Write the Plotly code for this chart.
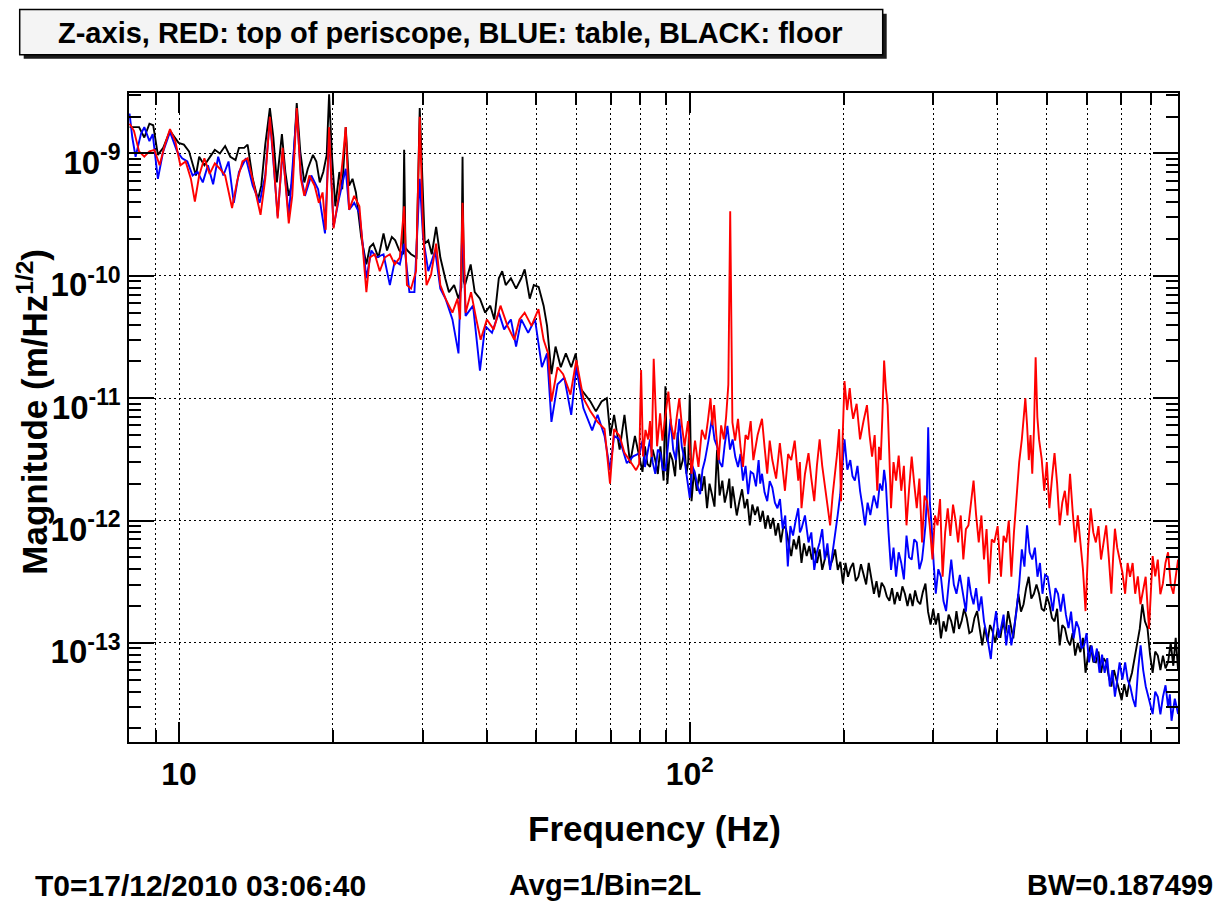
import plotly.graph_objects as go

# ---------------- data ----------------
black_pts = [
    (8.0, 1.64e-9), (8.35, 1.64e-9), (8.55, 1.35e-9), (8.75, 1.75e-9), (8.9, 1.7e-9), (9.09, 9.74e-10),
    (9.31, 1.11e-9), (9.6, 1.53e-9), (9.98, 1.22e-9), (10.22, 1.18e-9), (10.46, 1.04e-9), (10.79, 6.6e-10),
    (10.95, 9.4e-10), (11.21, 8.0e-10), (11.57, 9.74e-10), (11.75, 1.07e-9), (12.02, 1.0e-9), (12.31, 1.15e-9),
    (12.6, 9.4e-10), (12.9, 8.85e-10), (13.1, 1.11e-9), (13.41, 1.11e-9), (13.62, 1.18e-9), (13.94, 6.2e-10),
    (14.27, 4.2e-10), (14.49, 5.45e-10), (14.75, 1.18e-9), (15.06, 2.35e-9), (15.3, 1.35e-9), (15.54, 5.8e-10),
    (15.9, 1.44e-9), (16.15, 7.05e-10), (16.4, 4.5e-10), (16.66, 5.8e-10), (17.0, 2.58e-9), (17.27, 1.04e-9),
    (17.59, 5.8e-10), (17.87, 7.5e-10), (18.29, 9.74e-10), (18.57, 8.6e-10), (18.86, 5.8e-10), (19.16, 7.05e-10),
    (19.46, 9.74e-10), (19.67, 3.05e-9), (19.92, 9.74e-10), (20.23, 3.7e-10), (20.6, 7.05e-10), (20.87, 5.1e-10),
    (21.2, 1.64e-9), (21.53, 5.45e-10), (21.86, 6.2e-10), (22.2, 4.8e-10), (22.73, 2.08e-10), (23.27, 1.24e-10),
    (23.63, 1.71e-10), (24.0, 1.83e-10), (24.57, 1.41e-10), (25.14, 2.22e-10), (25.54, 1.61e-10), (26.1, 2.08e-10),
    (26.5, 1.95e-10), (27.0, 1.61e-10), (27.45, 1.5e-10), (27.59, 1.07e-9), (27.75, 1.7e-10), (28.0, 1.61e-10),
    (28.46, 1.5e-10), (29.17, 1.41e-10), (29.6, 2.35e-9), (29.9, 8.6e-10), (30.28, 1.83e-10), (30.76, 1.95e-10),
    (31.25, 1.5e-10), (31.87, 2.51e-10), (32.48, 1.41e-10), (33.2, 9.55e-11), (33.77, 7.35e-11), (34.56, 8.4e-11),
    (35.25, 6.5e-11), (35.7, 8.0e-11), (35.9, 9.4e-10), (36.1, 9.0e-11), (36.3, 8.4e-11), (37.24, 1.24e-10),
    (37.93, 7.35e-11), (38.83, 6.5e-11), (39.75, 5.0e-11), (40.68, 5.7e-11), (41.43, 4.4e-11), (42.28, 9.55e-11),
    (42.93, 1.09e-10), (43.62, 8.4e-11), (44.65, 9.55e-11), (45.7, 7.85e-11), (46.78, 9.55e-11), (47.51, 1.13e-10),
    (48.6, 6.5e-11), (49.5, 8.4e-11), (50.6, 8.1e-11), (51.74, 5.7e-11), (52.55, 3.9e-11), (53.6, 1.57e-11),
    (54.6, 2.64e-11), (55.9, 1.79e-11), (57.2, 2.32e-11), (58.6, 1.79e-11), (59.8, 2.32e-11), (60.9, 1.22e-11),
    (62.3, 1.07e-11), (63.9, 9.4e-12), (65.5, 7.8e-12), (67.2, 9.4e-12), (68.8, 1.0e-11), (69.9, 4.92e-12),
    (71.1, 7.3e-12), (72.9, 3.8e-12), (74.5, 7.3e-12), (76.4, 2.94e-12), (78.1, 4.92e-12),
    (79.8, 3.33e-12), (80.8, 2.5e-12), (81.7, 4.04e-12), (82.6, 2.9e-12), (83.6, 2.74e-12), (84.6, 3.8e-12),
    (85.6, 3.12e-12), (86.6, 2.4e-12), (87.6, 4.04e-12), (88.9, 2.12e-12), (89.6, 1.25e-11), (90.4, 1.99e-12),
    (91.4, 3.6e-12), (92.5, 3.12e-12), (93.6, 2.3e-12), (94.7, 5.24e-12), (95.8, 2.6e-12), (96.9, 3.12e-12),
    (97.7, 4.0e-12), (98.5, 2.41e-12), (99.3, 3.0e-12), (100.0, 1.06e-11), (100.8, 1.44e-12), (102.0, 2.6e-12),
    (103.2, 1.75e-12), (104.4, 2.4e-12), (105.6, 1.75e-12), (106.8, 2.3e-12), (108.1, 1.26e-12), (109.3, 2.0e-12),
    (110.5, 1.64e-12), (111.8, 1.3e-12), (113.1, 3.79e-12), (114.4, 1.6e-12), (115.8, 2.12e-12), (117.1, 1.4e-12),
    (118.5, 1.75e-12), (119.5, 2.2e-12), (120.4, 1.26e-12), (121.3, 1.9e-12), (122.2, 1.53e-12), (123.6, 1.1e-12),
    (125.1, 1.44e-12), (126.6, 1.8e-12), (128.1, 1.26e-12), (129.6, 1.5e-12), (131.1, 9.14e-13), (132.6, 1.35e-12),
    (134.2, 1.11e-12), (135.8, 1.3e-12), (137.4, 9.75e-13), (139.0, 1.2e-12), (140.6, 8.57e-13), (142.2, 1.1e-12),
    (143.9, 8.57e-13), (145.6, 1.05e-12), (147.3, 7.53e-13), (149.0, 9.5e-13), (150.8, 6.62e-13), (152.5, 9.0e-13),
    (154.3, 8.57e-13), (156.1, 6.5e-13), (158.0, 5.12e-13), (159.8, 7.0e-13), (161.7, 5.82e-13), (163.6, 7.5e-13),
    (165.5, 4.5e-13), (167.4, 6.5e-13), (169.4, 5.12e-13), (171.4, 6.2e-13), (173.4, 4.8e-13), (175.4, 6.0e-13),
    (177.5, 4.5e-13), (179.6, 5.8e-13), (181.7, 3.95e-13), (183.8, 4.8e-13), (186.0, 5.82e-13), (188.2, 4.2e-13),
    (190.4, 4.8e-13), (192.6, 5.8e-13), (194.9, 3.95e-13), (197.2, 4.6e-13), (199.5, 3.05e-13), (201.8, 4.5e-13),
    (204.1, 3.47e-13), (206.5, 4.1e-13), (208.9, 4.5e-13), (211.4, 3.2e-13), (213.9, 3.47e-13), (216.4, 4.4e-13),
    (218.9, 3.7e-13), (221.5, 3.0e-13), (224.1, 4.5e-13), (226.7, 3.4e-13), (229.4, 2.52e-13), (232.1, 3.2e-13),
    (234.8, 2.36e-13), (237.5, 3.1e-13), (240.3, 2.86e-13), (243.1, 2.4e-13), (246.0, 2.21e-13), (248.9, 2.8e-13),
    (251.8, 2.07e-13), (254.8, 2.6e-13), (257.8, 2.21e-13), (260.8, 2.9e-13), (263.8, 2.52e-13), (266.9, 2.0e-13),
    (270.0, 2.52e-13), (273.1, 2.0e-13), (276.2, 2.68e-13), (279.4, 2.2e-13), (282.7, 2.07e-13), (286.0, 2.6e-13),
    (289.4, 3.05e-13), (292.8, 1.8e-13), (296.2, 1.41e-13), (299.7, 1.9e-13), (303.2, 1.41e-13), (306.7, 1.75e-13),
    (310.3, 1.09e-13), (313.9, 1.5e-13), (317.6, 1.24e-13), (321.3, 1.7e-13), (325.1, 1.5e-13), (328.9, 1.2e-13),
    (332.8, 1.82e-13), (336.7, 1.3e-13), (340.6, 1.5e-13), (344.6, 1.9e-13), (348.6, 1.6e-13), (352.7, 1.2e-13),
    (356.8, 1.24e-13), (361.0, 1.6e-13), (365.3, 1.82e-13), (369.6, 1.3e-13), (373.9, 9.55e-14), (378.3, 1.35e-13),
    (382.7, 1.02e-13), (387.2, 1.4e-13), (391.7, 1.24e-13), (396.3, 1.0e-13), (401.0, 1.32e-13), (405.7, 1.1e-13),
    (410.4, 1.5e-13), (415.2, 1.2e-13), (420.1, 1.82e-13), (425.0, 1.4e-13), (430.0, 1.09e-13), (435.0, 1.7e-13),
    (440.0, 2.52e-13), (445.2, 1.8e-13), (450.4, 2.07e-13), (455.7, 2.8e-13), (461.0, 3.47e-13), (466.4, 2.3e-13),
    (471.9, 2.52e-13), (477.4, 3.0e-13), (483.0, 2.52e-13), (488.7, 1.9e-13), (494.4, 1.82e-13), (500.2, 2.4e-13),
    (506.0, 2.07e-13), (511.9, 1.6e-13), (517.9, 1.5e-13), (524.0, 1.9e-13), (530.1, 9.55e-14), (536.3, 1.4e-13),
    (542.6, 1.32e-13), (549.0, 1.05e-13), (555.4, 9.55e-14), (561.9, 1.2e-13), (568.5, 7.87e-14), (575.2, 1.0e-13),
    (581.9, 8.4e-14), (588.7, 1.1e-13), (595.6, 5.7e-14), (602.6, 8.0e-14), (609.6, 9.55e-14), (616.8, 7.0e-14),
    (624.0, 6.92e-14), (631.3, 8.5e-14), (638.7, 5.7e-14), (646.2, 7.5e-14), (653.7, 6.92e-14), (661.4, 5.3e-14),
    (669.1, 4.4e-14), (677.0, 6.0e-14), (684.9, 5.0e-14), (692.9, 4.0e-14), (701.0, 3.4e-14), (709.2, 4.6e-14),
    (717.5, 3.63e-14), (725.9, 4.8e-14), (734.4, 5.7e-14), (743.0, 7.5e-14), (751.7, 9.55e-14), (760.5, 1.3e-13),
    (769.4, 2.07e-13), (778.4, 1.5e-13), (787.5, 1.32e-13), (796.7, 8.0e-14), (806.0, 5.7e-14), (815.5, 8.5e-14),
    (825.0, 7.87e-14), (834.7, 6.0e-14), (844.4, 7.87e-14), (854.3, 6.2e-14), (864.3, 7.0e-14), (874.4, 1.0e-13),
    (884.7, 6.5e-14), (894.3, 1.1e-13), (904.0, 6.0e-14),
]

blue_pts = [
    (8.0, 2.12e-9), (8.1, 1.35e-9), (8.22, 9.4e-10), (8.42, 1.44e-9), (8.55, 1.64e-9), (8.75, 1.26e-9),
    (8.88, 1.44e-9), (9.09, 6.2e-10), (9.31, 1.04e-9), (9.6, 1.5e-9), (9.91, 1.04e-9), (10.14, 9.13e-10),
    (10.38, 8.6e-10), (10.63, 6.6e-10), (10.87, 7.05e-10), (11.13, 5.8e-10), (11.39, 8.0e-10), (11.66, 5.6e-10),
    (11.93, 9.4e-10), (12.21, 6.6e-10), (12.5, 8.6e-10), (12.8, 3.95e-10), (13.1, 7.05e-10), (13.52, 9.13e-10),
    (13.94, 5.45e-10), (14.38, 3.95e-10), (14.75, 6.6e-10), (15.06, 1.93e-9), (15.3, 8.6e-10), (15.6, 3.05e-10),
    (15.95, 1.04e-9), (16.4, 3.05e-10), (17.0, 2.2e-9), (17.32, 6.6e-10), (17.64, 4.5e-10), (18.15, 6.6e-10),
    (18.72, 5.1e-10), (19.31, 2.22e-10), (19.67, 1.44e-9), (20.07, 2.51e-10), (20.55, 4.2e-10), (21.2, 7.5e-10),
    (21.53, 3.47e-10), (22.03, 3.95e-10), (22.55, 3.25e-10), (23.27, 9.55e-11), (23.8, 1.61e-10), (24.36, 1.41e-10),
    (25.14, 1.5e-10), (25.87, 8.4e-11), (26.45, 1.32e-10), (27.06, 1.24e-10), (27.59, 1.83e-10), (28.25, 7.35e-11),
    (28.9, 7.35e-11), (29.6, 6.2e-10), (30.04, 2.08e-10), (30.76, 1.09e-10), (31.73, 1.61e-10), (32.48, 7.85e-11),
    (33.25, 6.5e-11), (34.3, 4.4e-11), (35.25, 2.32e-11), (35.9, 2.68e-10), (36.4, 4.7e-11), (37.64, 5.7e-11),
    (38.83, 1.68e-11), (39.75, 3.9e-11), (41.0, 3.42e-11), (42.28, 5.0e-11), (43.3, 3.65e-11), (44.65, 4.4e-11),
    (45.7, 2.64e-11), (46.78, 4.4e-11), (48.26, 3.42e-11), (49.77, 4.4e-11), (51.34, 1.79e-11), (52.55, 2.32e-11),
    (53.6, 6.4e-12), (55.1, 1.3e-11), (56.8, 1.47e-11), (58.6, 7.3e-12), (59.96, 1.79e-11), (61.9, 8.3e-12),
    (64.4, 5.45e-12), (66.0, 7.3e-12), (68.1, 4.92e-12), (69.8, 2.58e-12), (71.1, 4.92e-12), (72.9, 4.6e-12),
    (75.3, 2.94e-12), (77.5, 3.35e-12),
    (79.8, 3.55e-12), (80.8, 4.5e-12), (81.7, 2.74e-12), (82.6, 3.6e-12), (83.6, 4.6e-12), (84.6, 3.0e-12),
    (85.6, 2.41e-12), (86.6, 3.8e-12), (87.6, 3.55e-12), (88.6, 2.6e-12), (89.6, 2.57e-12), (90.6, 4.0e-12),
    (91.7, 6.78e-12), (92.8, 3.8e-12), (93.9, 3.12e-12), (94.6, 4.5e-12), (95.4, 6.78e-12), (96.5, 4.0e-12),
    (97.7, 3.12e-12), (98.8, 2.2e-12), (100.0, 1.53e-12), (101.2, 2.8e-12), (102.4, 2.41e-12), (103.6, 1.9e-12),
    (104.8, 1.64e-12), (105.9, 2.6e-12), (107.1, 3.12e-12), (108.8, 4.5e-12), (110.5, 6.78e-12), (111.8, 4.6e-12),
    (113.1, 4.04e-12), (114.4, 3.0e-12), (115.8, 2.74e-12), (117.1, 4.2e-12), (118.5, 5.95e-12), (119.9, 3.8e-12),
    (121.3, 4.6e-12), (122.8, 3.3e-12), (124.3, 2.74e-12), (125.7, 3.5e-12), (127.1, 2.12e-12), (128.6, 2.8e-12),
    (130.1, 1.64e-12), (131.6, 2.5e-12), (133.2, 2.41e-12), (134.8, 1.9e-12), (136.4, 3.12e-12), (137.4, 2.0e-12),
    (138.5, 2.41e-12), (140.1, 1.7e-12), (141.8, 1.44e-12), (143.4, 2.1e-12), (145.1, 1.86e-12), (146.8, 1.4e-12),
    (148.5, 1.26e-12), (150.2, 1.5e-12), (152.0, 8.57e-13), (153.8, 1.1e-12), (155.6, 4.22e-13), (157.4, 9.0e-13),
    (159.3, 7.53e-13), (161.2, 1.0e-12), (163.1, 1.26e-12), (164.3, 8.0e-13), (165.5, 8.57e-13), (168.1, 1.1e-12),
    (170.8, 6.62e-13), (173.0, 8.0e-13), (175.3, 3.95e-13), (177.4, 5.5e-13), (179.6, 6.62e-13), (181.7, 8.5e-13),
    (183.8, 4.8e-13), (186.0, 6.5e-13), (188.3, 3.95e-13), (190.4, 5.5e-13), (192.6, 7.53e-13), (194.8, 1.1e-12),
    (197.1, 1.64e-12), (199.0, 2.8e-12), (200.9, 4.6e-12), (203.5, 2.6e-12), (206.2, 3.12e-12), (208.3, 2.3e-12),
    (210.5, 2.12e-12), (213.0, 2.8e-12), (215.5, 1.75e-12), (217.9, 1.3e-12), (220.4, 9.14e-13), (223.0, 1.4e-12),
    (225.7, 1.11e-12), (229.3, 1.6e-12), (232.9, 1.26e-12), (235.6, 2.0e-12), (238.3, 1.75e-12), (240.2, 2.6e-12),
    (242.1, 1.99e-12), (245.0, 8.0e-13), (247.8, 3.95e-13), (250.6, 6.0e-13), (253.5, 3.47e-13), (256.5, 5.5e-13),
    (259.5, 4.5e-13), (262.6, 3.3e-13), (265.7, 7.53e-13), (268.8, 5.0e-13), (272.0, 4.8e-13), (275.1, 7.0e-13),
    (278.3, 6.62e-13), (281.6, 4.0e-13), (285.0, 4.8e-13), (287.2, 6.5e-13), (289.4, 9.14e-13), (291.2, 1.5e-12),
    (293.0, 5.77e-12), (295.2, 1.4e-12), (297.5, 9.14e-13), (300.3, 4.5e-13), (303.2, 2.52e-13), (306.7, 4.0e-13),
    (310.3, 3.47e-13), (313.9, 2.2e-13), (317.6, 1.82e-13), (321.3, 3.0e-13), (325.1, 4.8e-13), (328.9, 3.0e-13),
    (332.8, 2.52e-13), (338.0, 3.6e-13), (343.3, 2.52e-13), (347.3, 1.8e-13), (351.3, 3.47e-13), (355.4, 2.5e-13),
    (359.5, 2.07e-13), (363.7, 2.8e-13), (368.0, 1.82e-13), (372.4, 2.4e-13), (376.8, 1.5e-13), (382.7, 1.1e-13),
    (388.6, 7.38e-14), (393.3, 1.3e-13), (398.0, 1.82e-13), (402.4, 1.1e-13), (406.8, 1.32e-13), (411.6, 1.7e-13),
    (416.5, 9.55e-14), (421.4, 1.4e-13), (426.3, 9.55e-14), (431.3, 1.3e-13), (436.3, 1.82e-13), (441.6, 3.0e-13),
    (446.9, 5.82e-13), (452.2, 4.2e-13), (457.5, 9.14e-13), (462.9, 5.5e-13), (468.4, 4.8e-13), (474.0, 6.0e-13),
    (479.6, 3.47e-13), (485.0, 4.5e-13), (490.5, 2.52e-13), (496.3, 3.6e-13), (502.2, 3.47e-13), (508.0, 2.5e-13),
    (513.9, 1.82e-13), (520.0, 2.8e-13), (526.1, 2.52e-13), (532.4, 1.8e-13), (538.8, 2.52e-13), (545.1, 1.7e-13),
    (551.5, 1.32e-13), (558.0, 1.8e-13), (564.6, 1.09e-13), (571.3, 1.5e-13), (578.0, 1.32e-13), (584.8, 9.0e-14),
    (591.7, 9.55e-14), (598.3, 1.2e-13), (605.0, 6.92e-14), (612.3, 9.5e-14), (619.6, 6.92e-14), (626.9, 9.0e-14),
    (634.2, 5.7e-14), (641.7, 8.0e-14), (649.2, 5.7e-14), (656.8, 7.5e-14), (664.5, 4.4e-14), (672.2, 6.0e-14),
    (680.0, 3.63e-14), (687.3, 5.0e-14), (694.6, 6.92e-14), (703.3, 5.0e-14), (712.0, 6.92e-14), (720.3, 5.0e-14),
    (728.7, 4.4e-14), (737.3, 3.5e-14), (745.9, 2.99e-14), (754.7, 6.0e-14), (763.5, 9.55e-14), (772.4, 6.0e-14),
    (781.4, 4.4e-14), (793.7, 3.4e-14), (806.0, 2.62e-14), (815.5, 4.0e-14), (825.0, 3.63e-14), (834.7, 2.6e-14),
    (844.4, 3.63e-14), (854.3, 4.5e-14), (864.3, 2.99e-14), (871.0, 3.8e-14), (877.7, 2.31e-14), (890.8, 3.5e-14),
    (904.0, 2.62e-14),
]

red_pts = [
    (8.0, 1.75e-9), (8.16, 1.53e-9), (8.35, 1.04e-9), (8.55, 9.4e-10), (8.75, 1.04e-9), (8.95, 1.07e-9),
    (9.16, 8.0e-10), (9.38, 1.18e-9), (9.6, 1.58e-9), (9.83, 1.26e-9), (10.06, 8.0e-10), (10.3, 8.6e-10),
    (10.55, 6.2e-10), (10.74, 4.05e-10), (10.95, 6.6e-10), (11.21, 9.13e-10), (11.48, 6.8e-10), (11.75, 8.3e-10),
    (12.02, 7.5e-10), (12.31, 6.6e-10), (12.7, 3.58e-10), (13.0, 6.0e-10), (13.31, 8.6e-10), (13.62, 9.13e-10),
    (13.98, 5.8e-10), (14.44, 3.15e-10), (14.75, 6.2e-10), (15.06, 1.99e-9), (15.3, 9.13e-10), (15.6, 2.95e-10),
    (15.95, 1.11e-9), (16.4, 2.68e-10), (16.66, 4.5e-10), (17.0, 2.35e-9), (17.32, 6.2e-10), (17.59, 4.5e-10),
    (18.0, 6.6e-10), (18.43, 5.45e-10), (18.78, 3.95e-10), (19.1, 4.8e-10), (19.37, 2.37e-10), (19.67, 1.64e-9),
    (20.07, 2.44e-10), (20.55, 4.5e-10), (20.93, 9.13e-10), (21.2, 1.64e-9), (21.53, 3.47e-10), (22.03, 4.5e-10),
    (22.55, 3.7e-10), (23.27, 7.35e-11), (23.63, 1.41e-10), (24.17, 1.5e-10), (24.72, 1.09e-10), (25.28, 1.41e-10),
    (25.87, 1.5e-10), (26.45, 1.24e-10), (27.06, 1.41e-10), (27.59, 3.7e-10), (27.94, 8.4e-11), (28.46, 7.85e-11),
    (29.11, 1.09e-10), (29.6, 1.99e-9), (30.04, 2.37e-10), (30.52, 8.4e-11), (31.15, 1.02e-10), (31.87, 1.83e-10),
    (32.48, 8.4e-11), (33.25, 6.5e-11), (34.3, 5.0e-11), (35.1, 6.5e-11), (35.5, 4.4e-11), (35.9, 3.95e-10),
    (36.4, 5.0e-11), (37.3, 7.35e-11), (38.2, 4.4e-11), (38.95, 3.0e-11), (40.06, 4.4e-11), (41.3, 3.65e-11),
    (42.6, 5.7e-11), (43.96, 3.9e-11), (45.35, 3.0e-11), (46.4, 4.4e-11), (47.5, 5.0e-11), (49.0, 3.9e-11),
    (50.55, 5.35e-11), (51.74, 3.0e-11), (52.8, 2.32e-11), (53.6, 9.4e-12), (55.1, 1.79e-11), (56.5, 1.57e-11),
    (58.4, 1.07e-11), (59.96, 2.04e-11), (61.9, 1.0e-11), (63.9, 7.8e-12), (66.0, 6.4e-12), (68.1, 5.6e-12),
    (69.8, 2.0e-12), (71.1, 5.6e-12), (72.9, 4.92e-12), (74.5, 3.57e-12), (76.9, 2.94e-12), (78.5, 2.58e-12),
    (79.6, 2.9e-12), (80.3, 1.7e-11), (81.0, 3.33e-12), (81.9, 5.5e-12), (82.9, 4.6e-12), (83.6, 6.5e-12),
    (84.2, 3.3e-12), (85.0, 2.1e-11), (86.3, 4.04e-12), (87.5, 7.5e-12), (88.4, 4.5e-12), (89.4, 6.78e-12),
    (90.8, 1.13e-11), (92.0, 6.0e-12), (93.2, 4.6e-12), (94.3, 7.0e-12), (95.4, 9.97e-12), (96.5, 6.0e-12),
    (97.7, 4.04e-12), (99.2, 6.5e-12), (100.8, 2.41e-12), (102.4, 4.5e-12), (104.0, 2.74e-12), (105.6, 5.5e-12),
    (107.3, 4.6e-12), (108.5, 6.5e-12), (109.8, 9.97e-12), (110.7, 6.0e-12), (111.6, 8.77e-12), (112.7, 5.0e-12),
    (113.9, 3.12e-12), (115.2, 6.0e-12), (116.6, 4.6e-12), (117.8, 7.0e-12), (119.0, 1.29e-11), (120.0, 3.37e-10),
    (121.2, 6.35e-12), (122.7, 4.5e-12), (124.3, 6.78e-12), (125.7, 4.0e-12), (127.1, 2.74e-12), (128.6, 5.0e-12),
    (130.1, 4.6e-12), (131.6, 6.5e-12), (133.2, 3.12e-12), (135.8, 5.0e-12), (138.5, 6.78e-12), (140.1, 4.0e-12),
    (141.8, 2.41e-12), (143.4, 4.5e-12), (145.1, 3.12e-12), (147.6, 2.2e-12), (150.1, 4.3e-12), (151.8, 2.8e-12),
    (153.6, 1.75e-12), (155.8, 3.5e-12), (158.0, 3.12e-12), (160.5, 4.5e-12), (163.1, 2.12e-12), (164.3, 3.0e-12),
    (165.5, 1.26e-12), (168.1, 2.4e-12), (170.8, 3.55e-12), (173.0, 2.2e-12), (175.3, 1.44e-12), (177.4, 2.8e-12),
    (179.6, 4.6e-12), (181.7, 2.8e-12), (183.8, 1.99e-12), (186.0, 1.4e-12), (188.3, 9.14e-13), (190.4, 1.6e-12),
    (192.6, 2.41e-12), (194.3, 3.5e-12), (196.1, 5.58e-12), (197.8, 1.44e-12), (199.3, 5.0e-12), (200.9, 1.38e-11),
    (203.3, 8.0e-12), (205.7, 1.21e-11), (207.3, 8.5e-12), (208.9, 6.78e-12), (212.2, 9.0e-12), (215.5, 4.6e-12),
    (218.9, 6.5e-12), (222.3, 8.77e-12), (224.9, 5.0e-12), (227.5, 3.33e-12), (230.2, 5.0e-12), (232.9, 1.75e-12),
    (234.7, 4.0e-12), (236.5, 3.12e-12), (238.3, 7.0e-12), (240.2, 2.03e-11), (242.1, 1.2e-11), (244.0, 8.77e-12),
    (245.9, 3.5e-12), (247.8, 1.26e-12), (250.6, 3.0e-12), (253.5, 2.12e-12), (256.5, 3.4e-12), (259.5, 1.75e-12),
    (262.6, 2.8e-12), (265.7, 9.14e-13), (268.8, 1.8e-12), (272.0, 3.33e-12), (275.1, 2.0e-12), (278.3, 1.26e-12),
    (281.6, 2.2e-12), (285.0, 6.62e-13), (288.2, 1.6e-12), (291.5, 1.44e-12), (295.1, 9.0e-13), (298.7, 4.8e-13),
    (302.1, 1.1e-12), (305.6, 9.14e-13), (309.1, 1.5e-12), (312.7, 3.47e-13), (316.3, 8.0e-13), (320.0, 1.26e-12),
    (323.8, 7.5e-13), (327.7, 1.35e-12), (331.5, 1.0e-12), (335.3, 6.62e-13), (339.3, 1.1e-12), (343.3, 4.8e-13),
    (347.3, 8.5e-13), (351.3, 9.14e-13), (355.4, 1.4e-12), (359.5, 2.12e-12), (363.7, 1.1e-12), (368.0, 6.62e-13),
    (372.4, 1.1e-12), (376.8, 4.8e-13), (381.2, 8.5e-13), (385.6, 3.05e-13), (390.1, 7.0e-13), (394.6, 6.62e-13),
    (400.7, 9.0e-13), (406.8, 3.47e-13), (411.6, 7.5e-13), (416.5, 6.62e-13), (421.4, 1.0e-12), (426.3, 3.47e-13),
    (431.3, 8.0e-13), (436.3, 1.64e-12), (441.6, 3.0e-12), (446.9, 4.6e-12), (450.4, 6.5e-12), (454.0, 9.97e-12),
    (457.6, 6.0e-12), (461.2, 3.12e-12), (464.8, 5.0e-12), (468.4, 2.41e-12), (472.0, 5.5e-12), (475.6, 2.16e-11),
    (479.3, 7.0e-12), (483.0, 4.6e-12), (488.7, 3.2e-12), (494.4, 1.75e-12), (500.2, 3.0e-12), (506.0, 1.26e-12),
    (511.9, 2.2e-12), (517.9, 3.55e-12), (524.0, 2.0e-12), (530.1, 9.14e-13), (536.3, 1.4e-12), (542.6, 1.75e-12),
    (549.0, 1.1e-12), (555.4, 2.41e-12), (561.9, 1.2e-12), (568.5, 6.62e-13), (575.2, 1.1e-12), (581.9, 6.62e-13),
    (588.7, 4.0e-13), (595.6, 1.82e-13), (602.6, 6.0e-13), (609.6, 1.26e-12), (616.8, 8.0e-13), (624.0, 6.62e-13),
    (631.3, 9.0e-13), (638.7, 4.8e-13), (646.2, 6.5e-13), (653.7, 9.14e-13), (661.4, 5.0e-13), (669.1, 2.52e-13),
    (674.5, 5.0e-13), (680.0, 8.57e-13), (687.0, 6.0e-13), (694.0, 4.8e-13), (703.0, 3.8e-13), (712.0, 2.52e-13),
    (720.0, 4.5e-13), (728.0, 3.47e-13), (736.5, 4.5e-13), (745.0, 2.52e-13), (754.0, 3.5e-13), (763.0, 2.07e-13),
    (772.0, 2.6e-13), (781.0, 3.47e-13), (793.0, 1.3e-13), (806.0, 5.12e-13), (815.5, 3.5e-13), (825.0, 4.8e-13),
    (834.5, 2.5e-13), (844.0, 3.05e-13), (854.0, 4.5e-13), (864.0, 5.5e-13), (874.5, 3.0e-13), (885.0, 2.52e-13),
    (894.5, 3.5e-13), (904.0, 4.8e-13),
]

title_text = "Z-axis, RED: top of periscope, BLUE: table, BLACK: floor"
x_title = "Frequency (Hz)"
y_title = "Magnitude (m/Hz<sup>1/2</sup>)"
footer_left = "T0=17/12/2010 03:06:40"
footer_mid = "Avg=1/Bin=2L"
footer_right = "BW=0.187499"

x_major = [10, 100]
x_major_text = ["10", "10<sup>2</sup>"]
x_minor = [9, 20, 30, 40, 50, 60, 70, 80, 90, 200, 300, 400, 500, 600, 700, 800]
y_major = [1e-13, 1e-12, 1e-11, 1e-10, 1e-9]
y_major_text = ["10<sup>-13</sup>", "10<sup>-12</sup>", "10<sup>-11</sup>", "10<sup>-10</sup>", "10<sup>-9</sup>"]
y_minor = [k * 10.0 ** e for e in range(-14, -8) for k in range(2, 10)]

# ---------------- layout geometry ----------------
# the page body has an 8px margin, so the figure is drawn 8px smaller and shifted
OFF = 8
W, H = 1228 - OFF, 905 - OFF
L, R, T, B = 129.3 - OFF, 1178.3 - OFF, 93.3 - OFF, 741.7 - OFF
FONT = "Liberation Sans, Arial, Helvetica, sans-serif"


def px(x):
    return (x - OFF - L) / (R - L)


def py(y):
    return (B - (y - OFF)) / (B - T)


fig = go.Figure()
for pts, col in [(black_pts, "#000000"), (blue_pts, "#0000ff"), (red_pts, "#ff0000")]:
    fig.add_trace(go.Scatter(
        x=[p[0] for p in pts], y=[p[1] for p in pts], mode="lines",
        line=dict(color=col, width=1.9), showlegend=False, hoverinfo="skip"))

axis_common = dict(
    type="log", showline=True, linecolor="black", linewidth=1.5, mirror="allticks",
    ticks="inside", tickcolor="black", tickwidth=1.5, tickmode="array",
    showgrid=True, gridcolor="black", gridwidth=1.4, griddash="2px,3px",
    zeroline=False, tickfont=dict(family=FONT, size=32, color="black", weight="bold"),
)

fig.update_layout(
    width=W, height=H, autosize=False,
    margin=dict(l=L, r=W - R, t=T, b=H - B, pad=0),
    paper_bgcolor="white", plot_bgcolor="white",
    xaxis=dict(axis_common, range=[0.902, 2.956], tickvals=x_major, ticktext=x_major_text,
               ticklen=20, ticklabelstandoff=3,
               minor=dict(tickmode="array", tickvals=x_minor, ticks="inside", ticklen=12,
                          tickwidth=1.5, tickcolor="black", showgrid=True, gridcolor="black",
                          gridwidth=1.4, griddash="2px,3px")),
    yaxis=dict(axis_common, range=[-13.81, -8.506], tickvals=y_major, ticktext=y_major_text,
               ticklen=25, ticklabelstandoff=0, ticklabelshift=9,
               tickfont=dict(family=FONT, size=33, color="black", weight="bold"),
               minor=dict(tickmode="array", tickvals=y_minor, ticks="inside", ticklen=12,
                          tickwidth=1.5, tickcolor="black", showgrid=False)),
    shapes=[
        dict(type="rect", xref="paper", yref="paper", x0=px(24), x1=px(887), y0=py(59), y1=py(14),
             fillcolor="#1a1a1a", line=dict(width=0), layer="above"),
        dict(type="rect", xref="paper", yref="paper", x0=px(20), x1=px(883), y0=py(55), y1=py(10),
             fillcolor="#f4f4f4", line=dict(color="black", width=1.5), layer="above"),
    ],
    annotations=[
        dict(text=title_text, xref="paper", yref="paper", x=px(451), y=py(33), showarrow=False,
             xanchor="center", yanchor="middle",
             font=dict(family=FONT, size=29, color="black", weight="bold")),
        dict(text=x_title, xref="paper", yref="paper", x=px(655), y=py(828), showarrow=False,
             xanchor="center", yanchor="middle",
             font=dict(family=FONT, size=35, color="black", weight="bold")),
        dict(text=y_title, xref="paper", yref="paper", x=px(33), y=py(412), showarrow=False,
             xanchor="center", yanchor="middle", textangle=-90,
             font=dict(family=FONT, size=35, color="black", weight="bold")),
        dict(text=footer_left, xref="paper", yref="paper", x=px(33), y=py(885), showarrow=False,
             xanchor="left", yanchor="middle",
             font=dict(family=FONT, size=30, color="black", weight="bold")),
        dict(text=footer_mid, xref="paper", yref="paper", x=px(605), y=py(885), showarrow=False,
             xanchor="center", yanchor="middle",
             font=dict(family=FONT, size=29, color="black", weight="bold")),
        dict(text=footer_right, xref="paper", yref="paper", x=px(1215), y=py(885), showarrow=False,
             xanchor="right", yanchor="middle",
             font=dict(family=FONT, size=29, color="black", weight="bold")),
    ],
)

fig.write_html("out.html")
